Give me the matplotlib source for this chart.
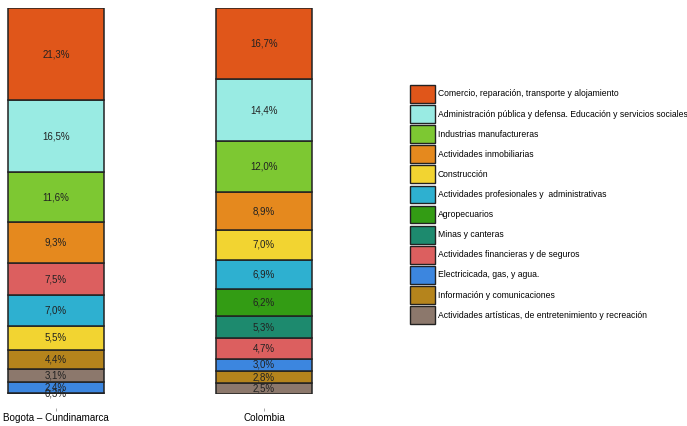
import matplotlib
matplotlib.use("Agg")
import matplotlib.pyplot as plt
import numpy as np
from matplotlib.patches import Patch

plt.rcParams['font.family'] = ['Liberation Sans Narrow', 'Liberation Sans', 'DejaVu Sans']

# sectores (orden de la leyenda)
sectores = ['Comercio, reparación, transporte y alojamiento',
            'Administración pública y defensa. Educación y servicios sociales',
            'Industrias manufactureras',
            'Actividades inmobiliarias',
            'Construcción',
            'Actividades profesionales y  administrativas',
            'Agropecuarios',
            'Minas y canteras',
            'Actividades financieras y de seguros',
            'Electricicada, gas, y agua.',
            'Información y comunicaciones',
            'Actividades artísticas, de entretenimiento y recreación']
colores = ['#E0561A', '#99EBE3', '#7DC832', '#E5891E', '#F2D431', '#2EB0D0',
           '#339C14', '#1D8A6E', '#DC5F5F', '#3C86DF', '#B5841C', '#8C786C']

regiones = ['Bogota \u2013 Cundinamarca', 'Colombia']
bogota = [21.3, 16.5, 11.6, 9.3, 5.5, 7.0, 0.3, 0.0, 7.5, 2.4, 4.4, 3.1]
colombia = [16.7, 14.4, 12.0, 8.9, 7.0, 6.9, 6.2, 5.3, 4.7, 3.0, 2.8, 2.5]

fig = plt.figure(figsize=(6.87, 4.26), dpi=100)
ax = fig.add_axes([0, 32/426, 400/687, 386/426])

for i, vals in enumerate([bogota, colombia]):
    vals = np.array(vals)
    total = vals.sum()
    # de abajo hacia arriba: menor a mayor
    orden = np.argsort(vals, kind='stable')
    base = 0.0
    for k in orden:
        if vals[k] <= 0:
            continue
        h = vals[k] / total * 100
        ax.bar(i, h, bottom=base, width=0.46, color=colores[k],
               edgecolor='#222222', linewidth=1.1)
        ax.text(i, base + h/2, ('%.1f%%' % vals[k]).replace('.', ','),
                ha='center', va='center', fontsize=7, color='#222222')
        base += h

ax.set_xlim(-56/208, (400-56)/208)
ax.set_ylim(0, 100)
for s in ['top', 'right', 'left']:
    ax.spines[s].set_visible(False)
ax.spines['bottom'].set_position(('outward', 10))
ax.spines['bottom'].set_visible(False)
ax.set_yticks([])
ax.set_xticks([0, 1])
ax.set_xticklabels(regiones, fontsize=7.1)
ax.tick_params(axis='x', length=2, width=0.6, color='#999999', pad=2)

handles = [Patch(facecolor=c, edgecolor='#222222', linewidth=1.0) for c in colores]
fig.legend(handles, sectores, loc='upper left', bbox_to_anchor=(410/687, 1-85/426),
           frameon=False, fontsize=6.2, handlelength=2.95, handleheight=2.8,
           labelspacing=0.27, handletextpad=0.25, borderpad=0, borderaxespad=0)

fig.savefig('out.png', dpi=100)
